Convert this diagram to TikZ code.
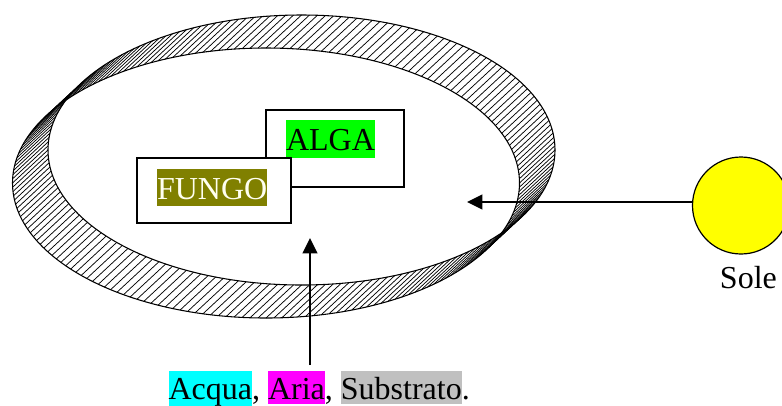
\documentclass[tikz,border=0pt]{standalone}
\usepackage{fontspec}
\setmainfont{Liberation Serif}
\usetikzlibrary{arrows.meta}
\definecolor{algagreen}{HTML}{00FF00}
\definecolor{fungoolive}{HTML}{808000}
\definecolor{fungotextcol}{HTML}{FFFFF0}
\definecolor{acquacyan}{HTML}{00FFFF}
\definecolor{ariamag}{HTML}{FF00FF}
\definecolor{substgray}{HTML}{C0C0C0}
\definecolor{sunyellow}{HTML}{FFFF00}
\newcommand{\hlbox}[2]{{\setlength{\fboxsep}{0pt}\colorbox{#1}{\rule[-0.156em]{0pt}{1.041em}#2}}}
\tikzset{
  hatchline/.style={line width=0.55pt},
  ringline/.style={line width=0.8pt},
  boxnode/.style={draw, line width=1.1pt, fill=white, inner sep=0pt},
  hltext/.style={anchor=base, inner sep=0pt, text height=22.8pt, text depth=5.2pt},
  arrowline/.style={line width=1.3pt, -{Triangle[length=11.5pt,width=11pt]}}
}
\begin{document}
\begin{tikzpicture}[x=0.75pt, y=-0.75pt, font=\fontsize{24}{28}\selectfont]
\useasboundingbox (0,0) rectangle (782,405);
\clip (0,0) rectangle (782,405);
% hatched ring band (generators of an extruded ellipse)
\foreach \i in {0,...,199}{
  \pgfmathsetmacro\t{\i*1.8}
  \draw[hatchline] ({301.5+253.5*cos(\t)},{150+135*sin(\t)}) -- ++(-35.5,33);
}
\draw[ringline] (301.5,150) ellipse [x radius=190.125pt, y radius=101.25pt];
\draw[ringline] (266,183) ellipse [x radius=190.125pt, y radius=101.25pt];
% boxes
\node[boxnode, minimum width=103.5pt, minimum height=57.75pt] (alga) at (335,148.5) {};
\node[hltext, fill=algagreen] (algatext) at (330.5,150.7) {ALGA};
\node[boxnode, minimum width=115.5pt, minimum height=48.75pt] (fungo) at (214,190.5) {};
\node[hltext, fill=fungoolive, text=fungotextcol] (fungotext) at (212.2,199) {FUNGO};
% sun
\node[circle, draw, fill=sunyellow, minimum size=72.75pt, inner sep=0pt, line width=0.9pt] (sun) at (741,205.5) {};
\node[anchor=base] (sole) at (748.4,288) {Sole};
\coordinate (suntip) at (467,202);
\draw[arrowline] (sun.176) -- (suntip);
% inputs
\node[anchor=base west, inner sep=0pt] (inputs) at (168.3,399.3) {\hlbox{acquacyan}{Acqua}, \hlbox{ariamag}{Aria}, \hlbox{substgray}{Substrato}.};
\coordinate (inputtail) at (310,365);
\coordinate (inputtip) at (310,238);
\draw[arrowline] (inputtail) -- (inputtip);
\end{tikzpicture}
\end{document}
